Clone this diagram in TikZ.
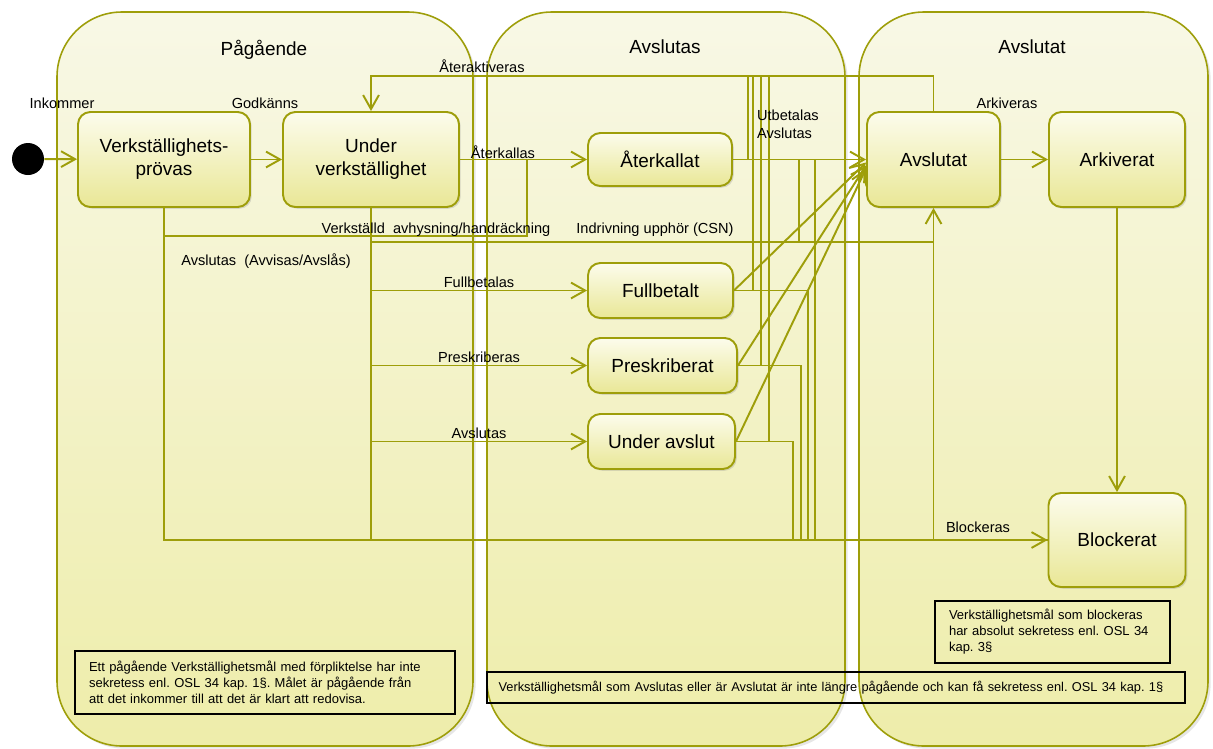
\documentclass[tikz,border=0pt]{standalone}
\usepackage{fontspec}
\setmainfont{Liberation Sans}
\usetikzlibrary{arrows.meta,shadows}
\frenchspacing

\definecolor{olivelin}{RGB}{158,158,10}
\definecolor{lanetop}{RGB}{248,248,230}
\definecolor{lanebot}{RGB}{238,237,170}
\definecolor{statetop}{RGB}{252,252,236}
\definecolor{statebot}{RGB}{233,231,150}

\begin{document}
\begin{tikzpicture}[x=0.02cm,y=-0.02cm,
    >={Straight Barb[length=8pt,width=9pt]},
    lane/.style={draw=olivelin,line width=0.9pt,rounded corners=1.3cm,top color=lanetop,bottom color=lanebot,
      drop shadow={opacity=0.2,shadow xshift=1.5pt,shadow yshift=-1.5pt}},
    state/.style={draw=olivelin,line width=1.1pt,rounded corners=7pt,top color=statetop,bottom color=statebot,
      align=center,font=\fontsize{10.8}{13}\selectfont,drop shadow={opacity=0.25,shadow xshift=1pt,shadow yshift=-1pt}},
    lbl/.style={font=\fontsize{8.3}{10}\selectfont,inner sep=1pt},
    title/.style={font=\fontsize{10.8}{13}\selectfont},
    note/.style={draw=black,line width=0.8pt,align=left,font=\fontsize{7.4}{9.1}\selectfont,inner xsep=0.28cm},
    flow/.style={draw=olivelin,line width=1.1pt}]
  \useasboundingbox (0,0) rectangle (1213,748);

  % lanes
  \draw[lane] (57,12) rectangle (473,746);
  \draw[lane] (487,12) rectangle (845,746);
  \draw[lane] (859,12) rectangle (1208,746);
  \node[title] (tPag) at (264,50) {Pågående};
  \node[title] (tAvs) at (665,47) {Avslutas};
  \node[title] (tAvt) at (1032,47) {Avslutat};

  % states
  \node[circle,fill=black,minimum size=0.64cm,inner sep=0pt] (start) at (28,159) {};
  \node[state,minimum width=3.44cm,minimum height=1.9cm] (vp) at (164,159.5) {Verkställighets-\\prövas};
  \node[state,minimum width=3.52cm,minimum height=1.9cm] (uv) at (371,159.5) {Under\\verkställighet};
  \node[state,minimum width=2.88cm,minimum height=1.06cm] (ak) at (660,159.5) {Återkallat};
  \node[state,minimum width=2.9cm,minimum height=1.1cm] (fb) at (660.5,290.5) {Fullbetalt};
  \node[state,minimum width=2.98cm,minimum height=1.1cm] (pr) at (662.5,365.5) {Preskriberat};
  \node[state,minimum width=2.94cm,minimum height=1.1cm] (ua) at (661.5,441.5) {Under avslut};
  \node[state,minimum width=2.66cm,minimum height=1.9cm] (av) at (933.5,159.5) {Avslutat};
  \node[state,minimum width=2.72cm,minimum height=1.9cm] (ar) at (1117,159.5) {Arkiverat};
  \node[state,minimum width=2.74cm,minimum height=1.88cm] (bl) at (1117,540) {Blockerat};

  % junctions
  \coordinate (reTop) at (0,76);
  \coordinate (vrk) at (0,242);
  \coordinate (avv) at (527,236);
  \coordinate (akUp) at (748,76);
  \coordinate (akDn) at (799,242);
  \coordinate (akBl) at (815,540);

  \draw[flow,->] (start) -- (vp);
  \draw[flow,->] (vp) -- (uv);
  \draw[flow,->] (uv) -- (ak);
  \draw[flow,->] (ak) -- (av);
  \draw[flow,->] (av) -- (ar);
  \draw[flow,->] (ar) -- (bl);
  \draw[flow,->] (av.north) -- (av.north |- reTop) -- (uv.north |- reTop) -- (uv.north);
  \draw[flow,->] (uv.south) |- (bl.west);
  \draw[flow] (vp.south) |- (bl.west);
  \draw[flow] (vp.south |- avv) -- (avv) -- (avv |- ak.west);
  \draw[flow,->] (uv.south |- vrk) -| (av.south);
  \draw[flow] (av.south |- bl.west) -- (av.south |- vrk);
  \draw[flow] (ak.east) -| (akUp);
  \draw[flow] (ak.east) -| (akDn);
  \draw[flow] (ak.east) -| (akBl);
  \foreach \n/\txt/\xu/\xd/\dy in {fb/Fullbetalas/753/808/0.06cm,pr/Preskriberas/761/801/0.12cm,ua/Avslutas/769/793/0.18cm}{
    \coordinate (u\n) at (\xu,76);
    \coordinate (d\n) at (\xd,540);
    \draw[flow,->] (uv.south |- \n.west) -- node[lbl,above,text depth=0pt] (l\n) {\txt} (\n.west);
    \draw[flow] (\n.east) -| (u\n);
    \draw[flow] (\n.east) -| (d\n);
    \draw[flow,->] (\n.east) -- ([yshift=-\dy]av.west);
  }

  % labels
  \node[lbl] (lInk) at (62,103) {Inkommer};
  \node[lbl] (lGod) at (265,103) {Godkänns};
  \node[lbl] (lAtk) at (503,152) {Återkallas};
  \node[lbl] (lAta) at (482,66) {Återaktiveras};
  \node[lbl,align=left,anchor=west] (lUtb) at (755,124) {Utbetalas\\Avslutas};
  \node[lbl] (lVrk) at (436,230) {Verkställd~~avhysning/handräckning};
  \node[lbl] (lInd) at (655,230) {Indrivning upphör (CSN)};
  \node[lbl] (lAvv) at (266,261) {Avslutas~~(Avvisas/Avslås)};
  \node[lbl] (lArk) at (1007,103) {Arkiveras};
  \node[lbl] (lBlk) at (978,527) {Blockeras};

  % notes
  \node[note,minimum width=7.6cm,minimum height=1.26cm,text width=7.04cm] (n1) at (265,682.5)
    {Ett pågående Verkställighetsmål med förpliktelse har inte\\sekretess enl. OSL 34 kap. 1§. Målet är pågående från\\att det inkommer till att det är klart att redovisa.};
  \node[note,minimum width=4.7cm,minimum height=1.24cm,text width=4.14cm] (n2) at (1052.5,632)
    {Verkställighetsmål som blockeras\\har absolut sekretess enl. OSL 34\\kap. 3§};
  \node[note,font=\fontsize{7.3}{9.1}\selectfont,minimum width=13.96cm,minimum height=0.62cm,text width=13.5cm,inner xsep=0.23cm] (n3) at (836,687.5)
    {Verkställighetsmål som Avslutas eller är Avslutat är inte längre pågående och kan få sekretess enl. OSL 34 kap. 1§};
\end{tikzpicture}
\end{document}
